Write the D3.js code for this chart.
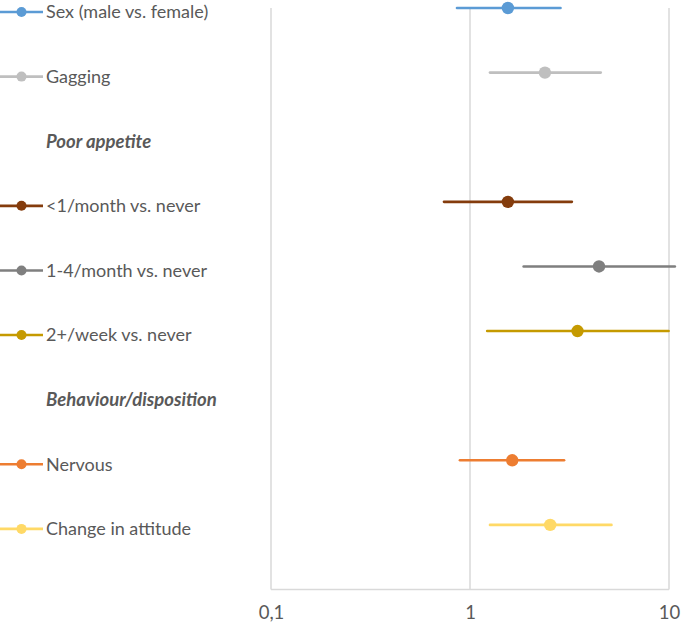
<!DOCTYPE html>
<html><head><meta charset="utf-8">
<script src="https://cdn.jsdelivr.net/npm/d3@7"></script>
<style>
html,body{margin:0;padding:0;background:#fff;}
svg{display:block;font-family:Lato,"Open Sans",sans-serif;}
</style></head>
<body>
<svg id="chart" width="685" height="622"></svg>
<script>
// Data
const labels = ["Sex (male vs. female)","Gagging","Poor appetite","<1/month vs. never","1-4/month vs. never","2+/week vs. never","Behaviour/disposition","Nervous","Change in attitude"];
const isHeader = [false,false,true,false,false,false,true,false,false];
const rowPos = [9,8,7,6,5,4,3,2,1];
const estimate = [1.55,2.38,null,1.55,4.45,3.47,null,1.63,2.53];
const lower    = [0.86,1.26,null,0.74,1.86,1.22,null,0.89,1.26];
const upper    = [2.85,4.54,null,3.25,10.7,9.95,null,2.97,5.14];
const colors   = ["#5b9bd5","#bfbfbf",null,"#843c0c","#7f7f7f","#c59a00",null,"#ed7d31","#ffd966"];
const tickValues = [0.1,1,10];
const tickLabels = ["0,1","1","10"];

const svg = d3.select("#chart");
const x = d3.scaleLog().domain([0.1,10]).range([271,669]);
const y = d3.scaleLinear().domain([0,9]).range([589.5,8]);
const textColor = "#595959", gridColor = "#d9d9d9";

// gridlines
svg.append("g").selectAll("line").data(tickValues).join("line")
  .attr("x1",d=>x(d)).attr("x2",d=>x(d)).attr("y1",y(9)).attr("y2",y(0))
  .attr("stroke",gridColor).attr("stroke-width",1.5);
// bottom axis line
svg.append("line").attr("x1",x(0.1)).attr("x2",x(10)).attr("y1",y(0)).attr("y2",y(0))
  .attr("stroke",gridColor).attr("stroke-width",1.5);
// axis tick labels
const xAxis = d3.axisBottom(x).tickValues(tickValues).tickFormat((d,i)=>tickLabels[i]).tickSize(0).tickPadding(16);
const ax = svg.append("g").attr("transform",`translate(0,${y(0)})`).call(xAxis);
ax.select(".domain").remove();
ax.selectAll("text").attr("fill",textColor).attr("font-size",18.5).attr("font-family","Lato,'Open Sans',sans-serif");

const rows = labels.map((l,i)=>({l,h:isHeader[i],p:rowPos[i],e:estimate[i],lo:lower[i],hi:upper[i],c:colors[i]}));
const data = rows.filter(r=>!r.h);

// CI lines
svg.append("g").selectAll("line").data(data).join("line")
  .attr("x1",d=>x(d.lo)).attr("x2",d=>x(d.hi))
  .attr("y1",d=>y(d.p)).attr("y2",d=>y(d.p))
  .attr("stroke",d=>d.c).attr("stroke-width",2.6).attr("stroke-linecap","round");
// points
svg.append("g").selectAll("circle").data(data).join("circle")
  .attr("cx",d=>x(d.e)).attr("cy",d=>y(d.p)).attr("r",6.2).attr("fill",d=>d.c);

// legend
const lg = svg.append("g").selectAll("g").data(rows).join("g")
  .attr("transform",d=>`translate(0,${y(d.p)+4})`);
lg.filter(d=>!d.h).append("line").attr("x1",0).attr("x2",43).attr("y1",0).attr("y2",0)
  .attr("stroke",d=>d.c).attr("stroke-width",2.6);
lg.filter(d=>!d.h).append("circle").attr("cx",21.5).attr("cy",0).attr("r",5).attr("fill",d=>d.c);
lg.append("text").attr("x",46).attr("y",0).attr("dy","0.35em")
  .attr("font-size",d=>d.h?18.5:18).attr("fill",textColor)
  .attr("font-weight",d=>d.h?"bold":"normal").attr("font-style",d=>d.h?"italic":"normal")
  .text(d=>d.l);
</script>
</body></html>
